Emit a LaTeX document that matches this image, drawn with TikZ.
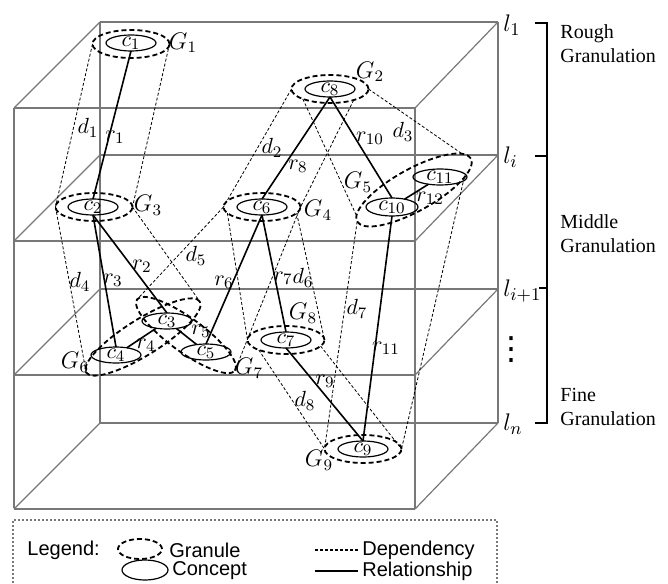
\documentclass[tikz,border=0pt]{standalone}
\usepackage{fontspec}
\setmainfont{Liberation Serif}
\newfontfamily\legendfont{Liberation Sans}
\newfontfamily\dotsfont{DejaVu Sans}
\usepackage{tikz}
\usetikzlibrary{shapes.geometric,positioning}
\definecolor{boxgray}{RGB}{120,120,120}

\tikzset{
  plane/.style={draw=boxgray, line width=0.6pt},
  concept/.style={ellipse, draw, line width=0.6pt, inner sep=0pt, outer sep=0pt,
    minimum width=25pt, minimum height=8pt},
  granule/.style={ellipse, draw, line width=0.9pt, dash pattern=on 2.5pt off 1.5pt,
    inner sep=0pt, outer sep=0pt, minimum width=38.5pt, minimum height=14pt},
  dep/.style={line width=0.4pt, dash pattern=on 1.5pt off 1pt},
  rel/.style={line width=0.8pt},
  lab/.style={inner sep=0pt, font=\fontsize{11}{13}\selectfont},
  glab/.style={inner sep=0pt, font=\fontsize{12}{14}\selectfont},
  lvl/.style={inner sep=0pt, anchor=west, font=\fontsize{13}{15}\selectfont},
  gtext/.style={inner sep=0pt, anchor=west, align=left, font=\fontsize{10}{12}\selectfont},
  legend/.style={inner sep=0pt, anchor=west, font=\legendfont\fontsize{10}{12}\selectfont},
  bracket/.style={line width=1.2pt},
}

\begin{document}
\begin{tikzpicture}[x=0.5pt, y=-0.5pt,
    every label/.style={inner sep=0pt, font=\fontsize{11}{13}\selectfont}]
    \useasboundingbox (0,0) rectangle (668,583);

    % Box with the four levels
    \foreach \y in {22,155,289,423}{
        \draw[plane] (100,\y) -- (498,\y);
        \draw[plane] (14,{\y+86}) -- (415,{\y+86});
        \draw[plane] (14,{\y+86}) -- (100,\y);
        \draw[plane] (415,{\y+86}) -- (498,\y);
    }
    \draw[plane] (100,22) -- (100,423);
    \draw[plane] (498,22) -- (498,423);
    \draw[plane] (14,108) -- (14,508);
    \draw[plane] (415,108) -- (415,508);

    % Granules
    \node[granule] (g1) at (131,44) {};
    \node[granule] (g2) at (330,89) {};
    \node[granule] (g3) at (94,207) {};
    \node[granule] (g4) at (262,207) {};
    \node[granule, minimum width=65pt, minimum height=21pt, rotate=29] (g5) at (414,190) {};
    \node[granule, minimum width=67pt, minimum height=18pt, rotate=32] (g6) at (143,337) {};
    \node[granule, minimum width=60.5pt, minimum height=17pt, rotate=-36] (g7) at (186,335) {};
    \node[granule] (g8) at (286,340) {};
    \node[granule] (g9) at (363,449) {};

    % Concepts
    \node[concept, label=center:$c_1$] (c1) at (131,43) {};
    \node[concept, label=center:$c_2$] (c2) at (93,207) {};
    \node[concept, label=center:$c_3$] (c3) at (167,321) {};
    \node[concept, label=center:$c_4$] (c4) at (116,355) {};
    \node[concept, label=center:$c_5$] (c5) at (206,352) {};
    \node[concept, label=center:$c_6$] (c6) at (262,207) {};
    \node[concept, label=center:$c_7$] (c7) at (286,340) {};
    \node[concept, label=center:$c_8$] (c8) at (330,89) {};
    \node[concept, label=center:$c_9$] (c9) at (363,449) {};
    \node[concept, minimum width=26pt, minimum height=9pt, label=center:$c_{10}$] (c10) at (392,207) {};
    \node[concept, minimum width=27pt, label=center:$c_{11}$] (c11) at (440,177) {};

    % Granule names
    \node[glab] (G1) at (183,43) {$G_1$};
    \node[glab] (G2) at (370,72) {$G_2$};
    \node[glab] (G3) at (148,205) {$G_3$};
    \node[glab] (G4) at (318,210) {$G_4$};
    \node[glab] (G5) at (358,182) {$G_5$};
    \node[glab] (G6) at (75,362) {$G_6$};
    \node[glab] (G7) at (249,368) {$G_7$};
    \node[glab] (G8) at (303,313) {$G_8$};
    \node[glab] (G9) at (319,460) {$G_9$};

    % Dependencies
    \draw[dep] (g1.west) -- (g3.west);
    \draw[dep] (g1.east) -- (g3.east);
    \draw[dep] (g2.west) -- (g4.west);
    \draw[dep] (g2.-25) -- (g4.east);
    \draw[dep] (g2.-160) -- (g5.175);
    \draw[dep] (g2.east) -- (g5.8);
    \draw[dep] (g3.west) -- (g6.west);
    \draw[dep] (g3.east) -- (g6.east);
    \draw[dep] (g4.west) -- (g7.west);
    \draw[dep] (g4.east) -- (g7.east);
    \draw[dep] (g4.-170) -- (g8.west);
    \draw[dep] (g4.-10) -- (g8.east);
    \draw[dep] (g5.west) -- (g9.west);
    \draw[dep] (g5.-15) -- (g9.east);
    \draw[dep] (g8.-160) -- (g9.west);
    \draw[dep] (g8.-10) -- (g9.east);

    % Relationships
    \draw[rel] (c1.south) -- (c2.north);
    \draw[rel] (c2.south) -- (c3.north);
    \draw[rel] (c2.south) -- (c4.north);
    \draw[rel] (c3) -- (c4);
    \draw[rel] (c3) -- (c5);
    \draw[rel] (c6.south) -- (c5.north);
    \draw[rel] (c6.south) -- (c7.north);
    \draw[rel] (c8.south) -- (c6.north);
    \draw[rel] (c7.south) -- (c9.north);
    \draw[rel] (c8.south) -- (c10.north);
    \draw[rel] (c10.south) -- (c9.north);
    \draw[rel] (c10) -- (c11);

    % Labels of dependencies and relationships
    \node[lab] (d1) at (88,128) {$d_1$};
    \node[lab] (r1) at (115,137) {$r_1$};
    \node[lab] (d2) at (272,148) {$d_2$};
    \node[lab] (r8) at (298,166) {$r_8$};
    \node[lab] (r10) at (370,138) {$r_{10}$};
    \node[lab] (d3) at (403,132) {$d_3$};
    \node[lab] (r12) at (430,198) {$r_{12}$};
    \node[lab] (d4) at (80,282) {$d_4$};
    \node[lab] (r3) at (113,280) {$r_3$};
    \node[lab] (r2) at (142,266) {$r_2$};
    \node[lab] (d5) at (196,256) {$d_5$};
    \node[lab] (r6) at (224,282) {$r_6$};
    \node[lab] (r7) at (283,278) {$r_7$};
    \node[lab] (d6) at (303,278) {$d_6$};
    \node[lab] (d7) at (357,309) {$d_7$};
    \node[lab] (r11) at (386,348) {$r_{11}$};
    \node[lab] (r9) at (325,381) {$r_9$};
    \node[lab] (d8) at (305,401) {$d_8$};
    \node[lab] (r4) at (146,345) {$r_4$};
    \node[lab] (r5) at (201,331) {$r_5$};

    % Levels and granulation bracket
    \node[lvl] (l1) at (503,25) {$l_1$};
    \node[lvl] (li) at (503,157) {$l_i$};
    \node[lvl] (lii) at (503,291) {$l_{i+1}$};
    \node[lvl] (ln) at (503,424) {$l_n$};
    \node[inner sep=0pt, font=\dotsfont\fontsize{16}{16}\selectfont] (dots) at (511,350) {⋮};
    \draw[bracket] (535,23) -- (547,23) -- (547,423) -- (535,423);
    \draw[bracket] (535,156) -- (547,156);
    \draw[bracket] (539,288) -- (547,288);
    \node[gtext] (rough) at (560,44) {Rough\\Granulation};
    \node[gtext] (middle) at (560,234) {Middle\\Granulation};
    \node[gtext] (fine) at (560,407) {Fine\\Granulation};

    % Legend
    \draw[draw=boxgray, line width=0.6pt, dash pattern=on 1.2pt off 0.8pt]
        (13,583) |- (497,520) -- (497,583);
    \node[legend] (leg) at (27,550) {Legend:};
    \node[granule, minimum width=22pt, minimum height=10pt] (lgran) at (140,549) {};
    \node[legend] (lgrant) at (169,550) {Granule};
    \node[concept, minimum width=23pt, minimum height=10pt] (lconc) at (145,570) {};
    \node[legend] (lconct) at (172,571) {Concept};
    \coordinate (ldepa) at (315,550);
    \coordinate (ldepb) at (358,550);
    \draw[dep, line width=0.6pt] (ldepa) -- (ldepb);
    \node[legend] (ldept) at (362,550) {Dependency};
    \coordinate (lrela) at (315,571);
    \coordinate (lrelb) at (358,571);
    \draw[rel, line width=0.6pt] (lrela) -- (lrelb);
    \node[legend] (lrelt) at (362,571) {Relationship};
\end{tikzpicture}
\end{document}
